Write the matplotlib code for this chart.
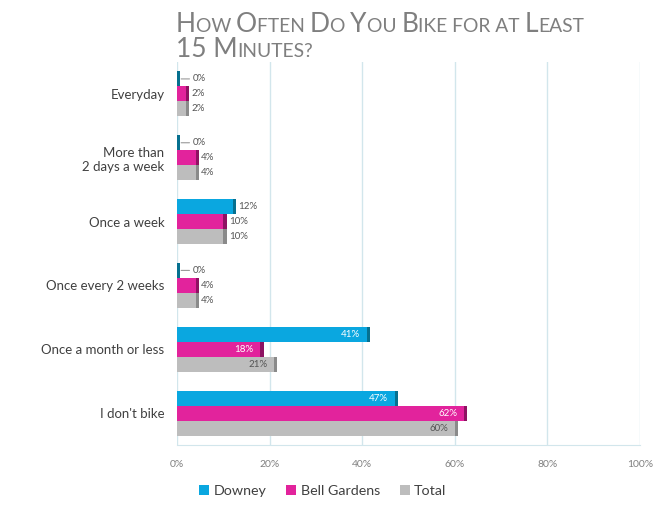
import matplotlib.pyplot as plt
import numpy as np

plt.rcParams['font.family'] = ['Lato', 'DejaVu Sans']

categories = ['Everyday', 'More than\n2 days a week', 'Once a week',
              'Once every 2 weeks', 'Once a month or less', "I don't bike"]
downey = [0, 0, 12, 0, 41, 47]
bell_gardens = [2, 4, 10, 4, 18, 62]
total = [2, 4, 10, 4, 21, 60]
series_names = ['Downey', 'Bell Gardens', 'Total']
ticks = [0, 20, 40, 60, 80, 100]

colors = ['#0AA7E0', '#E2239C', '#BDBDBD']
sides = ['#06708F', '#8E1262', '#8A8A8A']
inside_text = ['white', 'white', '#555555']

fig = plt.figure(figsize=(6.56, 5.07), dpi=100)
ax = fig.add_axes([0.2698, 0.1223, 0.7058, 0.7554])

y = np.arange(len(categories))
h = 0.235
for i, (vals, name) in enumerate(zip([downey, bell_gardens, total], series_names)):
    pos = y + (i - 1) * h
    vals = np.array(vals)
    ax.barh(pos, vals, height=h, color=colors[i], label=name, zorder=3)
    # darker end cap for a bevelled look
    ax.barh(pos, 0.7, left=vals, height=h, color=sides[i], zorder=3)
    for p, v in zip(pos, vals):
        if v == 0:
            ax.annotate(f'{v}%', xy=(v + 0.9, p), xytext=(v + 3.3, p),
                        va='center', ha='left', fontsize=7, color='#555555',
                        arrowprops=dict(arrowstyle='-', color='#999999', lw=0.8,
                                        shrinkA=0, shrinkB=0))
        elif v < 15:
            ax.text(v + 1.2, p, f'{v}%', va='center', ha='left',
                    fontsize=7, color='#555555', zorder=4)
        else:
            ax.text(v - 1.5, p, f'{v}%', va='center', ha='right',
                    fontsize=7, color=inside_text[i], zorder=4)

ax.set_xlim(0, 100)
ax.set_ylim(len(categories) - 0.5, -0.5)
ax.set_xticks(ticks)
ax.set_xticklabels([f'{t}%' for t in ticks], fontsize=7.5, color='#808080')
ax.set_yticks(y)
ax.set_yticklabels(categories, fontsize=9.5, color='#404040', linespacing=1.2)
ax.tick_params(axis='both', length=0)
ax.tick_params(axis='x', pad=11)
ax.tick_params(axis='y', pad=9)
ax.grid(axis='x', color='#D2E6EC', lw=1.0, zorder=0)
for s in ['top', 'left', 'right']:
    ax.spines[s].set_visible(False)
ax.spines['bottom'].set_color('#D2E6EC')

fig.legend(loc='lower center', bbox_to_anchor=(0.492, -0.005), ncol=3, frameon=False,
           fontsize=10.3, handlelength=0.7, handleheight=0.7, handletextpad=0.3,
           columnspacing=1.4, labelcolor='#404040')

# title drawn in small caps: capitals large, the rest as smaller capitals
title_lines = [
    [('H', 1), ('OW ', 0), ('O', 1), ('FTEN ', 0), ('D', 1), ('O ', 0), ('Y', 1),
     ('OU ', 0), ('B', 1), ('IKE FOR AT ', 0), ('L', 1), ('EAST', 0)],
    [('15 M', 1), ('INUTES?', 0)],
]
fig.canvas.draw()
renderer = fig.canvas.get_renderer()
x0 = 176 / 656
for line, base in zip(title_lines, [1 - 32 / 507, 1 - 57 / 507]):
    x = x0
    for piece, big in line:
        t = fig.text(x, base, piece, fontsize=19 if big else 13.9,
                     color='#7F7F7F', va='baseline', ha='left')
        bb = t.get_window_extent(renderer)
        x += bb.width / fig.bbox.width

fig.savefig('out.png', dpi=100)
